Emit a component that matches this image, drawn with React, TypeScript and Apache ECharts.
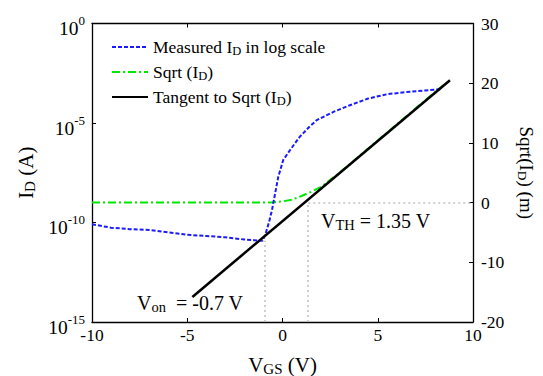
import React, { useEffect, useRef } from "react";
import * as echarts from "echarts";

const FONT = "'Liberation Serif', 'Times New Roman', serif";

// Measured drain current (log axis)
const measuredVgs = [-10, -9, -8, -7, -6, -5, -4, -3, -2, -1.5, -1.05, -0.9, -0.7, -0.55, -0.4, -0.22, 0.04, 0.4, 0.9, 1.4, 1.8, 2.7, 3.5, 4.5, 5.5, 6.5, 7.5, 8.3];
const measuredId = [8.1e-11, 5.5e-11, 4.6e-11, 4.2e-11, 3.2e-11, 2.4e-11, 2.1e-11, 1.8e-11, 1.4e-11, 1.3e-11, 1.2e-11, 2.5e-11, 1.1e-10, 4.3e-10, 2.5e-9, 2.0e-8, 1.4e-7, 4.4e-7, 2.0e-6, 6.3e-6, 1.4e-5, 3.7e-5, 7.6e-5, 1.7e-4, 2.8e-4, 3.6e-4, 4.3e-4, 5.0e-4];

// Sqrt(ID) (right axis)
const sqrtVgs = [-10, -8, -6, -4, -2, -1, -0.5, 0, 0.5, 1, 1.5, 2, 3, 4, 5, 6, 7, 8, 8.5];
const sqrtId = [0, 0, 0, 0, 0, 0, 0.05, 0.2, 0.5, 1.1, 1.8, 2.6, 5.0, 7.7, 10.4, 13.1, 15.8, 18.5, 19.8];

// Tangent line
const tangentVgs = [-4.73, 8.79];
const tangentSqrt = [-15.8, 20.5];

const vOn = -0.95;
const vOnId = 1.2e-11;
const vTh = 1.35;

const xTicks = [-10, -5, 0, 5, 10];
const logTicks = [1e-15, 1e-10, 1e-5, 1];

export default function App() {
  const ref = useRef<HTMLDivElement>(null);
  useEffect(() => {
    if (!ref.current) return;
    const chart = echarts.init(ref.current, null, { renderer: "svg" });
    const rich = {
      n: { fontFamily: FONT, fontSize: 21, color: "#000" },
      sub: { fontFamily: FONT, fontSize: 15, color: "#000", padding: [8, 0, 0, 0] },
    };
    const tickRich = {
      b: { fontFamily: FONT, fontSize: 19.5, color: "#000", padding: [10, 0, 0, 0] },
      s: { fontFamily: FONT, fontSize: 13, color: "#000", padding: [0, 0, 6, 0] },
    };
    const legRich = {
      n: { fontFamily: FONT, fontSize: 17.5, color: "#000" },
      sub: { fontFamily: FONT, fontSize: 12.5, color: "#000", padding: [7, 0, 0, 0] },
    };
    const annRich = {
      n: { fontFamily: FONT, fontSize: 20, color: "#000" },
      sub: { fontFamily: FONT, fontSize: 14.5, color: "#000", padding: [8, 0, 0, 0] },
    };
    const legendNames: Record<string, string> = {
      measured: "{n|Measured I}{sub|D}{n| in log scale}",
      sqrt: "{n|Sqrt (I}{sub|D}{n|)}",
      tangent: "{n|Tangent to Sqrt (I}{sub|D}{n|)}",
    };
    const dotted = { color: "#c4c4c4", width: 1.6, type: [2, 3] as any };
    const axisLine = { show: true, onZero: false, lineStyle: { color: "#000", width: 1.3 } };
    chart.setOption({
      animation: false,
      grid: { left: 92, right: 70, top: 23.5, bottom: 54, outerBoundsMode: "none", containLabel: false },
      legend: {
        orient: "vertical",
        left: 106,
        top: 33,
        itemWidth: 36,
        itemHeight: 14,
        itemGap: 6,
        data: ["measured", "sqrt", "tangent"],
        formatter: (name: string) => legendNames[name],
        itemStyle: { opacity: 0 },
        textStyle: { rich: legRich, fontFamily: FONT, fontSize: 17.5 },
      },
      xAxis: [
        {
          type: "value",
          min: -10,
          max: 10,
          interval: 5,
          axisLine,
          axisTick: { inside: true, length: 4, lineStyle: { color: "#000" } },
          splitLine: { show: false },
          axisLabel: {
            color: "#000",
            fontFamily: FONT,
            fontSize: 17.5,
            margin: 4,
            formatter: (v: number) => (xTicks.includes(v) ? String(v) : ""),
          },
          name: "{n|V}{sub|GS}{n| (V)}",
          nameLocation: "middle",
          nameGap: 31,
          nameTextStyle: { rich },
        },
        {
          type: "value",
          position: "top",
          min: -10,
          max: 10,
          interval: 5,
          axisLine,
          axisTick: { inside: true, length: 4, lineStyle: { color: "#000" } },
          axisLabel: { show: false },
          splitLine: { show: false },
        },
      ],
      yAxis: [
        {
          type: "log",
          logBase: 10,
          min: 1e-15,
          max: 1,
          position: "left",
          axisLine,
          axisTick: { show: true, inside: true, length: 4, customValues: logTicks, lineStyle: { color: "#000" } },
          minorTick: { show: false },
          splitLine: { show: false },
          axisLabel: {
            margin: 7,
            customValues: logTicks,
            hideOverlap: false,
            fontFamily: FONT,
            fontSize: 19.5,
            color: "#000",
            formatter: (v: number) => {
              const e = Math.round(Math.log10(v));
              return `{b|10}{s|${e}}`;
            },
            rich: tickRich,
          },
          name: "{n|I}{sub|D}{n| (A)}",
          nameLocation: "middle",
          nameRotate: 90,
          nameGap: 50,
          nameTextStyle: { rich },
        },
        {
          type: "value",
          min: -20,
          max: 30,
          interval: 10,
          position: "right",
          axisLine,
          axisTick: { show: true, inside: true, length: 4, lineStyle: { color: "#000" } },
          splitLine: { show: false },
          axisLabel: { color: "#000", fontFamily: FONT, fontSize: 17.5, margin: 8 },
          name: "{n|Sqrt(I}{sub|D}{n|) (m)}",
          nameLocation: "middle",
          nameRotate: -90,
          nameGap: 41,
          nameTextStyle: { rich: { n: { ...rich.n, fontSize: 19 }, sub: { ...rich.sub, fontSize: 13.5 } } },
        },
      ],
      series: [
        {
          name: "measured",
          type: "line",
          yAxisIndex: 0,
          symbol: "none",
          data: measuredVgs.map((x, i) => [x, measuredId[i]]),
          lineStyle: { color: "#1a1aff", width: 2, type: [4, 2] as any },
          itemStyle: { color: "#1a1aff" },
          markLine: {
            silent: true,
            symbol: "none",
            label: { show: false },
            lineStyle: dotted,
            data: [[{ coord: [vOn, 1e-15] }, { coord: [vOn, vOnId] }]],
          },
          z: 3,
        },
        {
          name: "sqrt",
          type: "line",
          yAxisIndex: 1,
          symbol: "none",
          data: sqrtVgs.map((x, i) => [x, sqrtId[i]]),
          lineStyle: { color: "#00e800", width: 2, type: [8, 3, 2, 3] as any },
          itemStyle: { color: "#00e800" },
          markLine: {
            silent: true,
            symbol: "none",
            label: { show: false },
            lineStyle: dotted,
            data: [
              [{ coord: [vTh, -20] }, { coord: [vTh, 0] }],
              [{ coord: [vTh, 0] }, { coord: [10, 0] }],
            ],
          },
          z: 2,
        },
        {
          name: "tangent",
          type: "line",
          yAxisIndex: 1,
          symbol: "none",
          data: tangentVgs.map((x, i) => [x, tangentSqrt[i]]),
          lineStyle: { color: "#000", width: 2.5 },
          itemStyle: { color: "#000" },
          z: 4,
        },
      ],
      graphic: [
        {
          type: "text",
          left: 321,
          top: 211,
          style: { text: "{n|V}{sub|TH}{n| = 1.35 V}", rich: annRich },
        },
        {
          type: "text",
          left: 137,
          top: 293,
          style: { text: "{n|V}{sub|on}{n|  = -0.7 V}", rich: annRich },
        },
      ],
    });
    return () => chart.dispose();
  }, []);
  return <div ref={ref} style={{ width: 543, height: 376, position: "absolute", left: 0, top: 0 }} />;
}
